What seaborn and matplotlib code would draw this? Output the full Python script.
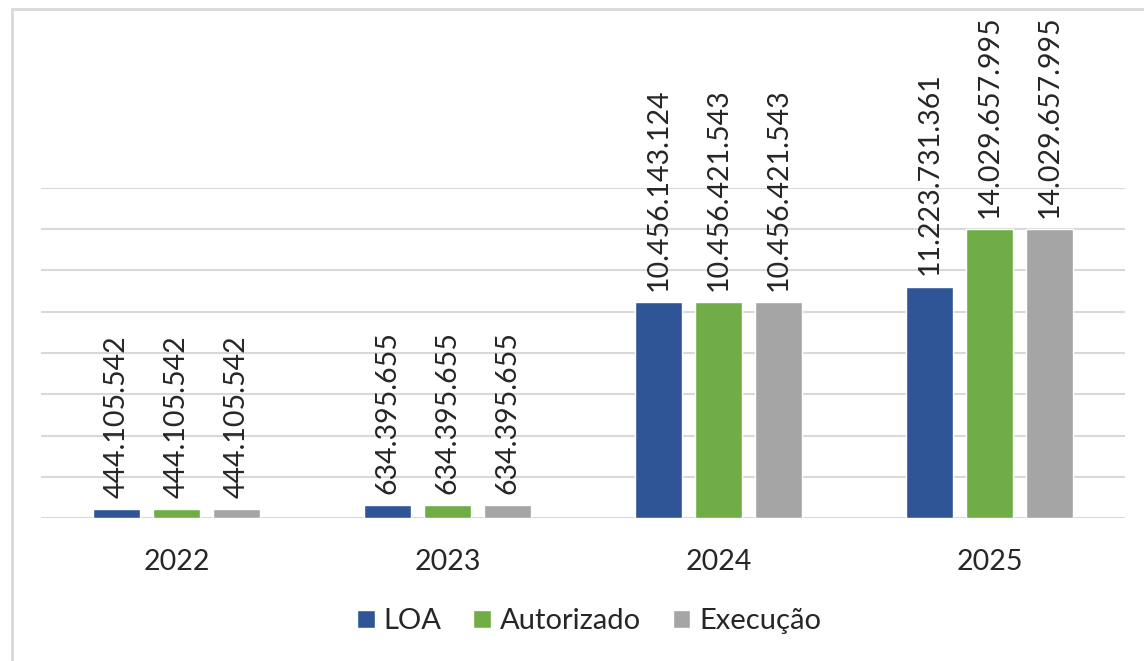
import pandas as pd
import seaborn as sns
import matplotlib.pyplot as plt
from matplotlib.patches import Rectangle

years = ["2022", "2023", "2024", "2025"]
series = ["LOA", "Autorizado", "Execução"]
loa = [444105542, 634395655, 10456143124, 11223731361]
autorizado = [444105542, 634395655, 10456421543, 14029657995]
execucao = [444105542, 634395655, 10456421543, 14029657995]
colors = ["#2F5597", "#70AD47", "#A5A5A5"]

df = pd.DataFrame({
    "ano": years * 3,
    "serie": [s for s in series for _ in years],
    "valor": loa + autorizado + execucao,
})

sns.set_style("white")
plt.rcParams['font.family'] = ['Lato', 'DejaVu Sans']

fig = plt.figure(figsize=(11.44, 6.61), dpi=100)
ax = fig.add_axes([0.0358, 0.2163, 0.9476, 0.4993])

sns.barplot(data=df, x="ano", y="valor", hue="serie", palette=colors,
            width=0.664, gap=0.22, ax=ax, legend=True, saturation=1)

ax.set_ylim(0, 16e9)
ax.set_yticks([i * 2e9 for i in range(9)])
ax.yaxis.grid(True, color="#D9D9D9", linewidth=1.5)
ax.set_axisbelow(True)
ax.set_yticklabels([])
ax.tick_params(axis="y", length=0)
ax.tick_params(axis="x", length=0, labelsize=20.5, pad=22)
ax.set_xlabel("")
ax.set_ylabel("")
for s in ax.spines.values():
    s.set_visible(False)

for cont in ax.containers:
    ax.bar_label(cont, labels=[f"{v:,.0f}".replace(",", ".") for v in cont.datavalues],
                 rotation=90, padding=8, fontsize=20.5, clip_on=False)

handles, labels = ax.get_legend_handles_labels()
ax.get_legend().remove()
fig.legend(handles, labels, loc="center", bbox_to_anchor=(0.515, 0.06), ncol=3,
           frameon=False, fontsize=21, handlelength=0.6, handleheight=0.6,
           handletextpad=0.3, columnspacing=1.1)

fig.patches.append(Rectangle((0.0105, -0.05), 1.2, 1.036, transform=fig.transFigure,
                             fill=False, edgecolor="#D9D9D9", linewidth=2, clip_on=False))

fig.savefig("out.png", dpi=100)
